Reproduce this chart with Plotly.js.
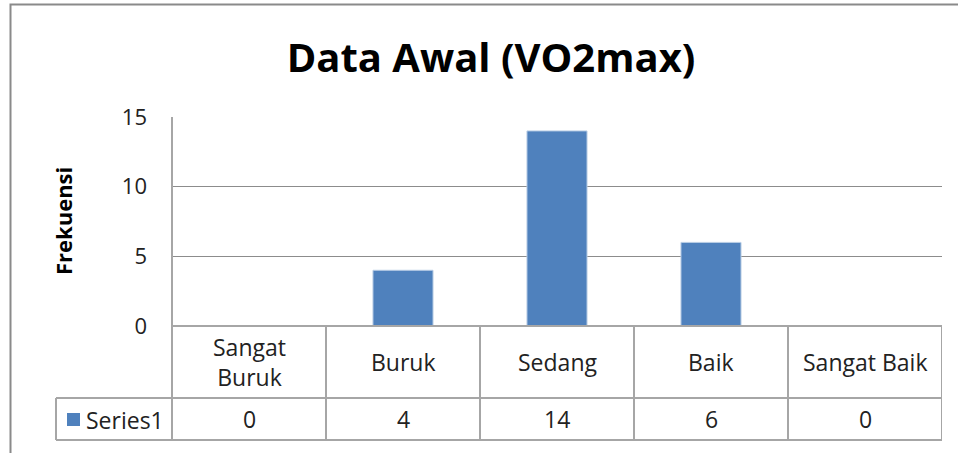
<!DOCTYPE html>
<html>
<head>
<meta charset="utf-8">
<script src="https://cdn.plot.ly/plotly-3.0.1.min.js"></script>
<style>html,body{margin:0;padding:0;background:#fff;}#chart{width:958px;height:453px;}</style>
</head>
<body>
<div id="chart"></div>
<script>
// ---- data ----
const categories = ["Sangat Buruk", "Buruk", "Sedang", "Baik", "Sangat Baik"];
const tableLabels = ["Sangat<br>Buruk", "Buruk", "Sedang", "Baik", "Sangat Baik"];
const values = [0, 4, 14, 6, 0];
const seriesName = "Series1";
const chartTitle = "Data Awal (VO2max)";
const yTitle = "Frekuensi";

// ---- geometry helpers (pixel -> paper) ----
const W = 958, H = 453;
const px = x => x / W;
const py = y => (H - y) / H;
const FONT = "'Open Sans', sans-serif";
const gridC = "#8c8c8c", lineC = "#a6a6a6";
const TS = 23;

const plotL = 172, plotR = 942, plotT = 117, plotB = 326;
const row1B = 398, row2B = 440, legendL = 56;

const shapes = [];
const line = (x0, y0, x1, y1, c, w) => shapes.push({type: "line", xref: "paper", yref: "paper",
  x0: px(x0), y0: py(y0), x1: px(x1), y1: py(y1), line: {color: c, width: w}});

// outer chart border
shapes.push({type: "rect", xref: "paper", yref: "paper", x0: px(10.5), y0: py(4.5), x1: px(990), y1: py(480),
  line: {color: "#8a8a8a", width: 2}});

// data table lines
line(plotL, plotB, plotR, plotB, lineC, 2);
line(legendL, row1B, plotR, row1B, lineC, 2);
line(legendL, row2B, plotR, row2B, lineC, 2);
line(legendL, row1B, legendL, row2B, lineC, 2);
line(plotL, plotT, plotL, row2B, lineC, 2);
categories.forEach((c, i) => {
  shapes.push({type: "line", xref: "x", yref: "paper", x0: i + 0.5, x1: i + 0.5,
    y0: py(plotB), y1: py(row2B), line: {color: lineC, width: 2}});
});
// legend key
shapes.push({type: "rect", xref: "paper", yref: "paper", x0: px(67), x1: px(80), y0: py(413), y1: py(426),
  fillcolor: "#4f81bd", line: {width: 0}});

const annotations = [];
tableLabels.forEach((t, i) => annotations.push({xref: "x", yref: "paper", x: i, y: py((plotB + row1B) / 2),
  text: t, showarrow: false, font: {family: FONT, size: TS, color: "#222"}, xanchor: "center", yanchor: "middle"}));
values.forEach((v, i) => annotations.push({xref: "x", yref: "paper", x: i, y: py((row1B + row2B) / 2),
  text: String(v), showarrow: false, font: {family: FONT, size: TS, color: "#222"}, xanchor: "center", yanchor: "middle"}));
annotations.push({xref: "paper", yref: "paper", x: px(84), y: py(420), text: seriesName, showarrow: false,
  xanchor: "left", yanchor: "middle", font: {family: FONT, size: TS, color: "#222"}});
annotations.push({xref: "paper", yref: "paper", x: px(63), y: py(221), text: "<b>" + yTitle + "</b>", textangle: -90,
  showarrow: false, xanchor: "center", yanchor: "middle", font: {family: FONT, size: 22, color: "#000"}});

const trace = {
  type: "bar", x: categories, y: values, name: seriesName, width: 0.39,
  marker: {color: "#4f81bd", line: {color: "#b9cde5", width: 1}},
  hoverinfo: "none"
};

const layout = {
  width: W, height: H,
  margin: {l: 0, r: 0, t: 0, b: 0},
  paper_bgcolor: "#fff", plot_bgcolor: "#fff",
  showlegend: false,
  title: {text: "<b>" + chartTitle + "</b>", x: px(491), xanchor: "center", y: py(58), yanchor: "middle",
    font: {family: FONT, size: 40, color: "#000"}},
  xaxis: {domain: [px(plotL), px(plotR)], type: "category", range: [-0.5, 4.5],
    showticklabels: false, showgrid: false, zeroline: false, showline: false, ticks: "", fixedrange: true},
  yaxis: {domain: [py(plotB), py(plotT)], range: [0, 15], dtick: 5, tick0: 0,
    showgrid: true, gridcolor: gridC, gridwidth: 1.5, zeroline: false, showline: false,
    ticks: "", ticklabelstandoff: 24,
    tickfont: {family: FONT, size: 22, color: "#222"}, fixedrange: true},
  shapes: shapes,
  annotations: annotations
};

Plotly.newPlot("chart", [trace], layout, {staticPlot: true, displayModeBar: false});
</script>
</body>
</html>
